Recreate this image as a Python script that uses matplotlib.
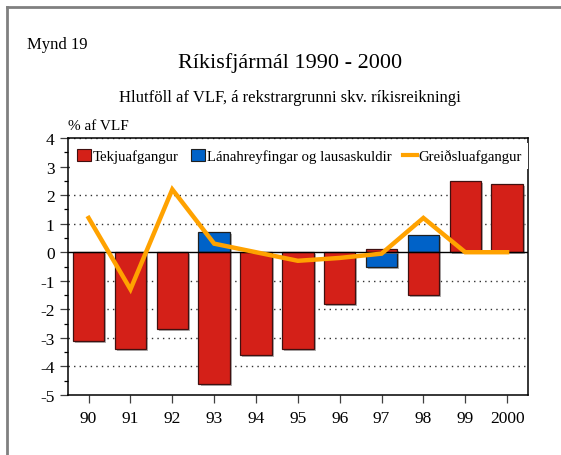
import numpy as np
import matplotlib
matplotlib.use('Agg')
import matplotlib.pyplot as plt
import matplotlib.patheffects as pe
from matplotlib.patches import Patch
from matplotlib.lines import Line2D

plt.rcParams['font.family'] = ['Liberation Serif', 'DejaVu Serif']
plt.rcParams['axes.unicode_minus'] = False

# Gögn
ar = ['90', '91', '92', '93', '94', '95', '96', '97', '98', '99', '2000']
tekjuafgangur = [-3.1, -3.4, -2.7, -4.6, -3.6, -3.4, -1.8, 0.1, -1.5, 2.5, 2.4]
lanahreyfingar = [0.0, 0.0, 0.0, 0.7, 0.0, 0.0, 0.0, -0.5, 0.6, 0.0, 0.0]
greidsluafgangur = [1.2, -1.3, 2.2, 0.3, 0.0, -0.3, -0.2, -0.05, 1.2, 0.0, 0.0]

rautt = '#d42018'
blatt = '#0062c8'
appelsinugult = '#ffa200'

fig = plt.figure(figsize=(5.61, 4.56), dpi=100)
ax = fig.add_axes([67.7 / 561, 1 - 396 / 456, (528 - 67.7) / 561, (396 - 139) / 456])

x = np.arange(len(ar))
skuggi = [pe.SimplePatchShadow(offset=(1.5, -1.5), shadow_rgbFace='#909090', alpha=0.7), pe.Normal()]

for i in x:
    if lanahreyfingar[i] != 0:
        b = ax.bar(i, lanahreyfingar[i], width=0.75, color=blatt, edgecolor='#202020', linewidth=0.9, zorder=3)
        b[0].set_path_effects(skuggi)
    b = ax.bar(i, tekjuafgangur[i], width=0.75, color=rautt, edgecolor='#401010', linewidth=0.9, zorder=3)
    b[0].set_path_effects(skuggi)

ax.plot(x, greidsluafgangur, color=appelsinugult, linewidth=3.2, zorder=5, solid_joinstyle='miter')

for yv in range(-4, 5):
    if yv != 0:
        ax.axhline(yv, color='#303030', linestyle=(0, (1, 3)), linewidth=1.0, zorder=1)
ax.axhline(0, color='black', linewidth=1.0, zorder=4)

ax.set_xlim(-0.5, len(ar) - 0.5)
ax.set_ylim(-5, 4)
ax.set_yticks(range(-5, 5))
ax.set_yticks(np.arange(-4.5, 4, 1), minor=True)
ax.set_xticks(x)
ax.set_xticklabels(ar)
ax.tick_params(axis='both', labelsize=12.5, direction='out', length=6, width=0.9, color='#404040')
ax.tick_params(axis='y', which='minor', length=3, width=0.9)
ax.tick_params(axis='x', pad=5)
for s in ax.spines.values():
    s.set_linewidth(1.1)

handles = [Patch(facecolor=rautt, edgecolor='#401010', linewidth=0.8),
           Patch(facecolor=blatt, edgecolor='#202020', linewidth=0.8),
           Line2D([0], [0], color=appelsinugult, linewidth=3)]
labels = ['Tekjuafgangur', 'Lánahreyfingar og lausaskuldir', 'Greiðsluafgangur']
leg = ax.legend(handles, labels, loc='upper left', bbox_to_anchor=(0.005, 0.985), ncol=3,
                frameon=True, fancybox=False, edgecolor='none', facecolor='white', framealpha=1,
                fontsize=10.6, handlelength=0.95, handleheight=0.8, handletextpad=0.12,
                columnspacing=0.8, borderpad=0.4, borderaxespad=0.1)
leg.set_zorder(6)

fig.text(27 / 561, 1 - 45 / 456, 'Mynd 19', fontsize=12, va='center', ha='left')
fig.text(290 / 561, 1 - 63 / 456, 'Ríkisfjármál 1990 - 2000', fontsize=16, va='center', ha='center')
fig.text(290 / 561, 1 - 98 / 456, 'Hlutföll af VLF, á rekstrargrunni skv. ríkisreikningi', fontsize=12, va='center', ha='center')
fig.text(68 / 561, 1 - 126 / 456, '% af VLF', fontsize=11, va='center', ha='left')

# Rammi utan um myndina
fig.add_artist(Line2D([7 / 561, 7 / 561], [0, 1 - 8 / 456], color='#808080', linewidth=2, transform=fig.transFigure))
fig.add_artist(Line2D([7 / 561, 1], [1 - 8 / 456, 1 - 8 / 456], color='#808080', linewidth=2, transform=fig.transFigure))

fig.savefig('out.png', dpi=100)
